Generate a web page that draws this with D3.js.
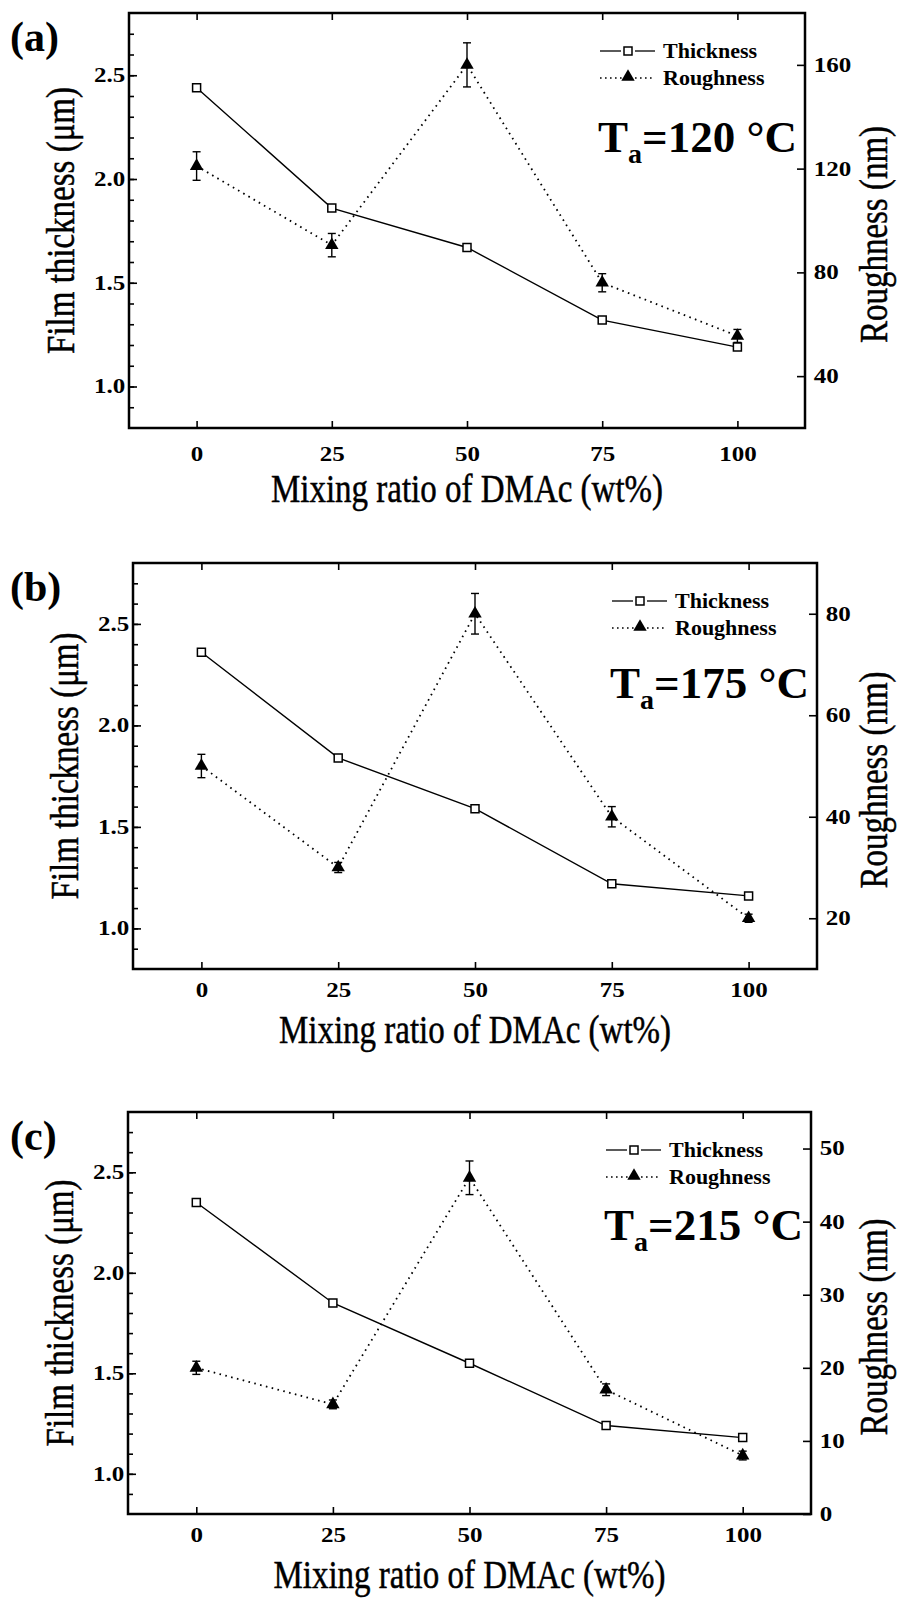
<!DOCTYPE html>
<html>
<head>
<meta charset="utf-8">
<script src="https://cdn.jsdelivr.net/npm/d3@7"></script>
<style>
  body { margin: 0; background: #fff; }
  svg { display: block; }
  text { font-family: "Liberation Serif", "Times New Roman", serif; fill: #000; }
</style>
</head>
<body>
<svg id="chart"></svg>
<script>
// Film thickness (left axis) and roughness (right axis) vs DMAc mixing ratio,
// three annealing temperatures stacked vertically.

const width = 901;
const height = 1618;

// Data
const mixing = [0, 25, 50, 75, 100];

const thicknessA = [2.44, 1.86, 1.67, 1.32, 1.19];
const roughnessA = [121, 90.5, 160, 76, 55.5];
const roughErrA  = [5.5, 4.5, 8.5, 3.5, 2.5];

const thicknessB = [2.36, 1.84, 1.59, 1.22, 1.16];
const roughnessB = [50, 30, 80, 40, 20];
const roughErrB  = [2.3, 1.0, 4.0, 2.0, 0.8];

const thicknessC = [2.35, 1.85, 1.55, 1.24, 1.18];
const roughnessC = [20, 15, 46, 17, 8];
const roughErrC  = [0.9, 0.6, 2.3, 0.8, 0.6];

const xTicks = [0, 25, 50, 75, 100];
const thickTicks = [1.0, 1.5, 2.0, 2.5];
const roughTicksA = [40, 80, 120, 160];
const roughTicksB = [20, 40, 60, 80];
const roughTicksC = [0, 10, 20, 30, 40, 50];
const temps = ["120", "175", "215"];
const panelNames = ["(a)", "(b)", "(c)"];

// Layout of the three panels
const panels = [
  { x0: 129, x1: 805, y0: 13,   y1: 428,  rDomain: [20, 180], rTicks: roughTicksA, taY: 139, tickY: 33,
    thick: thicknessA, rough: roughnessA, err: roughErrA },
  { x0: 133, x1: 817, y0: 563,  y1: 969,  rDomain: [10, 90],  rTicks: roughTicksB, taY: 135, tickY: 28,
    thick: thicknessB, rough: roughnessB, err: roughErrB },
  { x0: 128, x1: 811, y0: 1112, y1: 1514, rDomain: [0, 55],   rTicks: roughTicksC, taY: 128, tickY: 28,
    thick: thicknessC, rough: roughnessC, err: roughErrC }
];

const svg = d3.select("#chart")
    .attr("width", width)
    .attr("height", height);

svg.append("rect")
    .attr("width", width)
    .attr("height", height)
    .attr("fill", "#fff");

const tri = d3.symbol().type(d3.symbolTriangle).size(78);
const sq = d3.symbol().type(d3.symbolSquare).size(64);

function styleTicks(sel) {
  sel.select(".domain").remove();
  sel.selectAll("line").attr("stroke", "#000").attr("stroke-width", 1.6);
  sel.selectAll("text")
      .attr("fill", "#000")
      .attr("font-size", 20)
      .attr("font-weight", "bold")
      .attr("transform", "scale(1.25,1)");
}

panels.forEach((p, idx) => {
  const g = svg.append("g");

  const x = d3.scaleLinear().domain([-12.5, 112.5]).range([p.x0, p.x1]);
  const yL = d3.scaleLinear().domain([0.8, 2.8]).range([p.y1, p.y0]);
  const yR = d3.scaleLinear().domain(p.rDomain).range([p.y1, p.y0]);

  const rows = mixing.map((m, i) => ({ m: m, t: p.thick[i], r: p.rough[i], e: p.err[i] }));

  // Axes (ticks point inward)
  g.append("g")
      .attr("transform", `translate(${p.x0},0)`)
      .call(d3.axisLeft(yL).tickValues(d3.range(0.9, 2.75, 0.1)).tickSize(-5).tickFormat(""))
      .call(styleTicks);

  g.append("g")
      .attr("transform", `translate(${p.x0},0)`)
      .call(d3.axisLeft(yL).tickValues(thickTicks).tickSize(-8).tickPadding(3).tickFormat(d3.format(".1f")))
      .call(styleTicks);

  g.append("g")
      .attr("transform", `translate(${p.x1},0)`)
      .call(d3.axisRight(yR).tickValues(p.rTicks).tickSize(-8).tickPadding(7))
      .call(styleTicks);

  g.append("g")
      .attr("transform", `translate(0,${p.y1})`)
      .call(d3.axisBottom(x).tickValues(xTicks).tickSize(-7).tickPadding(p.tickY - 14))
      .call(styleTicks);

  g.append("g")
      .attr("transform", `translate(0,${p.y0})`)
      .call(d3.axisTop(x).tickValues(xTicks).tickSize(-7).tickFormat(""))
      .call(styleTicks);

  // Frame
  g.append("rect")
      .attr("x", p.x0)
      .attr("y", p.y0)
      .attr("width", p.x1 - p.x0)
      .attr("height", p.y1 - p.y0)
      .attr("fill", "none")
      .attr("stroke", "#000")
      .attr("stroke-width", 2.5);

  // Thickness line
  g.append("path")
      .datum(rows)
      .attr("fill", "none")
      .attr("stroke", "#000")
      .attr("stroke-width", 1.4)
      .attr("d", d3.line().x(d => x(d.m)).y(d => yL(d.t)));

  // Roughness dotted line
  g.append("path")
      .datum(rows)
      .attr("fill", "none")
      .attr("stroke", "#000")
      .attr("stroke-width", 1.8)
      .attr("stroke-dasharray", "1.6,4.4")
      .attr("d", d3.line().x(d => x(d.m)).y(d => yR(d.r)));

  // Error bars
  const eb = g.append("g").attr("stroke", "#000").attr("stroke-width", 1.4);
  rows.forEach(d => {
    const cx = x(d.m), top = yR(d.r + d.e), bot = yR(d.r - d.e);
    eb.append("line").attr("x1", cx).attr("x2", cx).attr("y1", top).attr("y2", bot);
    eb.append("line").attr("x1", cx - 4).attr("x2", cx + 4).attr("y1", top).attr("y2", top);
    eb.append("line").attr("x1", cx - 4).attr("x2", cx + 4).attr("y1", bot).attr("y2", bot);
  });

  // Markers
  g.selectAll(".sq")
    .data(rows)
    .enter().append("path")
      .attr("d", sq)
      .attr("transform", d => `translate(${x(d.m)},${yL(d.t)})`)
      .attr("fill", "#fff")
      .attr("stroke", "#000")
      .attr("stroke-width", 1.5);

  g.selectAll(".tri")
    .data(rows)
    .enter().append("path")
      .attr("d", tri)
      .attr("transform", d => `translate(${x(d.m)},${yR(d.r)})`)
      .attr("fill", "#000");

  // Legend
  const lx = p.x1 - 142;
  const ly1 = p.y0 + 45, ly2 = p.y0 + 72;
  g.append("line").attr("x1", lx - 63).attr("x2", lx - 42).attr("y1", ly1 - 7).attr("y2", ly1 - 7)
      .attr("stroke", "#000").attr("stroke-width", 1.3);
  g.append("line").attr("x1", lx - 28).attr("x2", lx - 8).attr("y1", ly1 - 7).attr("y2", ly1 - 7)
      .attr("stroke", "#000").attr("stroke-width", 1.3);
  g.append("path").attr("d", sq).attr("transform", `translate(${lx - 35},${ly1 - 7})`)
      .attr("fill", "#fff").attr("stroke", "#000").attr("stroke-width", 1.5);
  g.append("line").attr("x1", lx - 63).attr("x2", lx - 8).attr("y1", ly2 - 7).attr("y2", ly2 - 7)
      .attr("stroke", "#000").attr("stroke-width", 1.6).attr("stroke-dasharray", "1.6,3.4");
  g.append("path").attr("d", tri).attr("transform", `translate(${lx - 35},${ly2 - 8})`).attr("fill", "#000");
  g.append("text").attr("x", lx).attr("y", ly1).attr("font-size", 22).attr("font-weight", "bold").text("Thickness");
  g.append("text").attr("x", lx).attr("y", ly2).attr("font-size", 22).attr("font-weight", "bold").text("Roughness");

  // Annealing temperature
  const ta = g.append("text")
      .attr("x", p.x1 - 8)
      .attr("y", p.y0 + p.taY)
      .attr("text-anchor", "end")
      .attr("font-size", 45)
      .attr("font-weight", "bold");
  ta.append("tspan").text("T");
  ta.append("tspan").attr("font-size", 28).attr("dy", 11).text("a");
  ta.append("tspan").attr("dy", -11).text(`=${temps[idx]} °C`);

  // Panel label
  g.append("text")
      .attr("x", 10)
      .attr("y", p.y0 + 38)
      .attr("font-size", 42)
      .attr("font-weight", "bold")
      .text(panelNames[idx]);

  // Axis titles
  const titles = g.append("g")
      .attr("font-size", 33)
      .attr("stroke", "#000")
      .attr("stroke-width", 0.4);

  titles.append("text")
      .attr("transform", `translate(${(p.x0 + p.x1) / 2},${p.y1 + 74}) scale(1,1.2)`)
      .attr("text-anchor", "middle")
      .text("Mixing ratio of DMAc (wt%)");

  titles.append("text")
      .attr("transform", `translate(${p.x0 - 55},${(p.y0 + p.y1) / 2}) rotate(-90) scale(1,1.2)`)
      .attr("text-anchor", "middle")
      .text("Film thickness (μm)");

  titles.append("text")
      .attr("transform", `translate(887,${(p.y0 + p.y1) / 2 + 14}) rotate(-90) scale(1,1.2)`)
      .attr("text-anchor", "middle")
      .text("Roughness (nm)");
});
</script>
</body>
</html>
